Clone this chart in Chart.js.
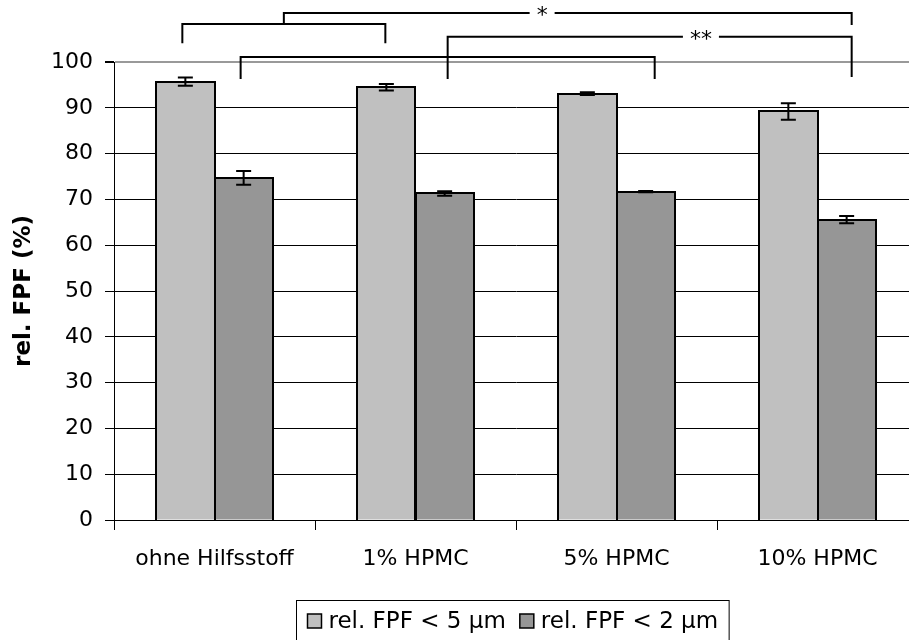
<!DOCTYPE html>
<html>
<head>
<meta charset="utf-8">
<script src="https://cdn.jsdelivr.net/npm/chart.js@4"></script>
<style>
  html, body { margin: 0; padding: 0; background: #fff; overflow: hidden; }
  #wrap { width: 920px; height: 640px; position: relative; }
</style>
</head>
<body>
<div id="wrap"><canvas id="fpfChart"></canvas></div>
<script>
const categories = ["ohne Hilfsstoff", "1% HPMC", "5% HPMC", "10% HPMC"];
const seriesLabels = ["rel. FPF < 5 µm", "rel. FPF < 2 µm"];
const fpf5 = [95.7, 94.5, 93.1, 89.2];
const fpf5Err = [0.9, 0.7, 0.3, 1.8];
const fpf2 = [74.7, 71.3, 71.7, 65.6];
const fpf2Err = [1.5, 0.5, 0.15, 0.8];
const yMin = 0, yMax = 100, yStep = 10;

// significance brackets, x in category units, y in axis units
const brackets = [
  { from: -0.16, to: 0.85, y: 108.3, legL: 104.1, legR: 104.1, label: "" },
  { from: 0.345, to: 3.17, y: 110.7, legL: 108.3, legR: 108.1, label: "*", at: 1.63 },
  { from: 1.16, to: 3.17, y: 105.5, legL: 96.3, legR: 96.7, label: "**", at: 2.42 },
  { from: 0.13, to: 2.19, y: 101.1, legL: 96.3, legR: 96.3, label: "" }
];

const FONT = "DejaVu Sans";

// crisp black outlines on the bars, shared edge drawn once
const barOutlines = {
  id: "barOutlines",
  afterDatasetsDraw(chart) {
    const ctx = chart.ctx;
    ctx.save();
    ctx.strokeStyle = "#000";
    ctx.lineWidth = 2;
    chart.data.datasets.forEach((ds, i) => {
      chart.getDatasetMeta(i).data.forEach(bar => {
        const l = Math.round(bar.x - bar.width / 2);
        const r = Math.round(bar.x + bar.width / 2);
        const t = Math.round(bar.y);
        const b = Math.round(bar.base);
        ctx.beginPath();
        ctx.moveTo(l, b); ctx.lineTo(l, t); ctx.lineTo(r, t); ctx.lineTo(r, b);
        ctx.stroke();
      });
    });
    ctx.restore();
  }
};

const errorBars = {
  id: "errorBars",
  afterDatasetsDraw(chart) {
    const ctx = chart.ctx;
    const y = chart.scales.y;
    const errs = [fpf5Err, fpf2Err];
    ctx.save();
    ctx.strokeStyle = "#000";
    ctx.lineWidth = 2;
    chart.data.datasets.forEach((ds, i) => {
      chart.getDatasetMeta(i).data.forEach((bar, j) => {
        const v = ds.data[j], e = errs[i][j];
        const top = y.getPixelForValue(v + e);
        const bot = y.getPixelForValue(v - e);
        ctx.beginPath();
        ctx.moveTo(bar.x, top); ctx.lineTo(bar.x, bot);
        ctx.moveTo(bar.x - 7.5, top); ctx.lineTo(bar.x + 7.5, top);
        ctx.moveTo(bar.x - 7.5, bot); ctx.lineTo(bar.x + 7.5, bot);
        ctx.stroke();
      });
    });
    ctx.restore();
  }
};

const sigBrackets = {
  id: "sigBrackets",
  afterDraw(chart) {
    const ctx = chart.ctx;
    const xs = chart.scales.x, ys = chart.scales.y;
    const x0 = xs.getPixelForValue(0);
    const cw = xs.getPixelForValue(1) - x0;
    const px = u => x0 + u * cw;
    ctx.save();
    ctx.strokeStyle = "#000";
    ctx.fillStyle = "#000";
    ctx.lineWidth = 2;
    ctx.font = "22px '" + FONT + "'";
    ctx.textAlign = "center";
    ctx.textBaseline = "middle";
    brackets.forEach(b => {
      const xl = px(b.from), xr = px(b.to), yy = ys.getPixelForValue(b.y);
      ctx.beginPath();
      ctx.moveTo(xl, ys.getPixelForValue(b.legL));
      ctx.lineTo(xl, yy);
      if (b.label) {
        const xc = px(b.at);
        const half = ctx.measureText(b.label).width / 2 + 7;
        ctx.lineTo(xc - half, yy);
        ctx.moveTo(xc + half, yy);
        ctx.fillText(b.label, xc, yy + 3);
      }
      ctx.lineTo(xr, yy);
      ctx.lineTo(xr, ys.getPixelForValue(b.legR));
      ctx.stroke();
    });
    ctx.restore();
  }
};

const boxLegend = {
  id: "boxLegend",
  afterDraw(chart) {
    const ctx = chart.ctx;
    ctx.save();
    ctx.font = "23px '" + FONT + "'";
    const sq = 14, gap = 7, sep = 14, pad = 11;
    const widths = chart.data.datasets.map(ds => ctx.measureText(ds.label).width);
    let total = pad * 2 + sep * (widths.length - 1);
    widths.forEach(w => { total += sq + gap + w; });
    const left = Math.round(512 - total / 2) + 0.5;
    const top = 600.5, midY = 621;
    ctx.strokeStyle = "#000";
    ctx.lineWidth = 1;
    ctx.strokeRect(left, top, total, 44);
    let x = left + pad;
    ctx.textBaseline = "middle";
    ctx.textAlign = "left";
    chart.data.datasets.forEach((ds, i) => {
      ctx.fillStyle = ds.backgroundColor;
      ctx.fillRect(x, midY - sq / 2, sq, sq);
      ctx.lineWidth = 1.5;
      ctx.strokeRect(x, midY - sq / 2, sq, sq);
      x += sq + gap;
      ctx.fillStyle = "#000";
      ctx.fillText(ds.label, x, midY + 1);
      x += widths[i] + sep;
    });
    ctx.restore();
  }
};

new Chart(document.getElementById("fpfChart"), {
  type: "bar",
  data: {
    labels: categories,
    datasets: [
      { label: seriesLabels[0], data: fpf5, backgroundColor: "#c0c0c0" },
      { label: seriesLabels[1], data: fpf2, backgroundColor: "#969696" }
    ]
  },
  options: {
    responsive: true,
    maintainAspectRatio: false,
    animation: false,
    layout: { padding: { top: 62, right: 2, left: 0, bottom: 0 } },
    datasets: { bar: { categoryPercentage: 0.58, barPercentage: 1, borderWidth: 0, inflateAmount: 0 } },
    plugins: { legend: { display: false }, tooltip: { enabled: false } },
    scales: {
      x: {
        afterFit: s => { s.height = 120; },
        border: { color: "#000", width: 1 },
        grid: { offset: true, drawOnChartArea: false, tickLength: 10, color: "#000" },
        ticks: { color: "#000", padding: 16, font: { family: FONT, size: 22 } }
      },
      y: {
        min: yMin, max: yMax,
        afterFit: s => { s.width = 114; },
        border: { color: "#000", width: 1 },
        grid: {
          tickLength: 9,
          tickColor: "#000",
          color: c => c.tick.value === yMax ? "#999" : "#000",
          lineWidth: c => c.tick.value === yMax ? 2 : 1
        },
        ticks: { stepSize: yStep, color: "#000", padding: 12, font: { family: FONT, size: 22 } },
        title: {
          display: true, text: "rel. FPF (%)", color: "#000",
          padding: { top: 10, bottom: 0 },
          font: { family: FONT, size: 23, weight: "bold" }
        }
      }
    }
  },
  plugins: [barOutlines, errorBars, sigBrackets, boxLegend]
});
</script>
</body>
</html>
